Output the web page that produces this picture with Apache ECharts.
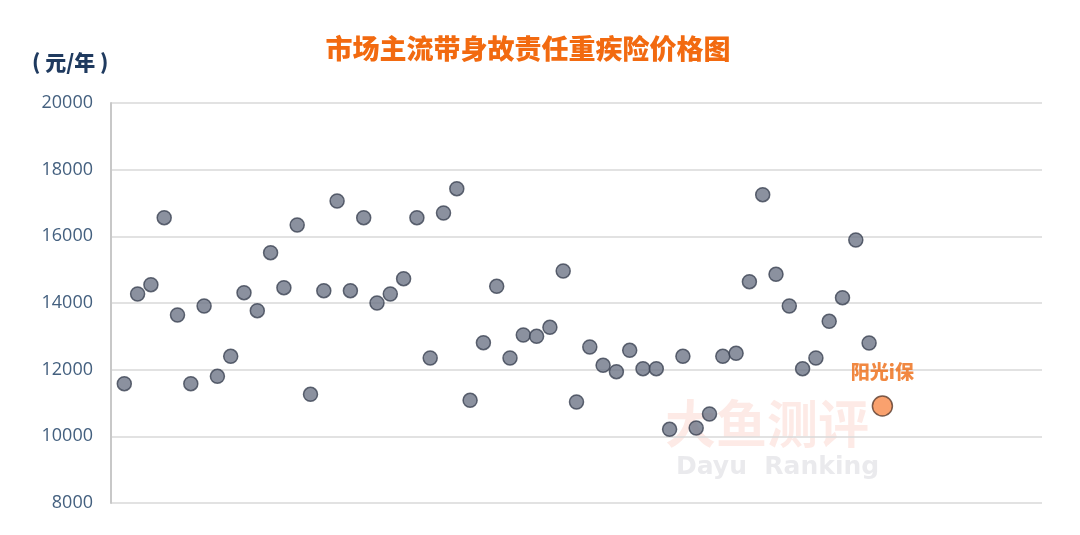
<!DOCTYPE html>
<html>
<head>
<meta charset="utf-8">
<script src="https://cdn.jsdelivr.net/npm/echarts@6/dist/echarts.min.js"></script>
<style>
html,body{margin:0;padding:0;background:#fff;}
#main{width:1080px;height:535px;}
</style>
</head>
<body>
<div id="main"></div>
<script>
const title = '市场主流带身故责任重疾险价格图';
const unitLabel = '( 元/年 )';
const yTicks = [8000, 10000, 12000, 14000, 16000, 18000, 20000];
const prices = [
  11580, 14270, 14550, 16560, 13640, 11580, 13910, 11800, 12400, 14310,
  13770, 15510, 14460, 16340, 11260, 14370, 17060, 14370, 16560, 14000,
  14270, 14730, 16560, 12350, 16700, 17430, 11080, 12810, 14500, 12350,
  13040, 13000, 13270, 14960, 11030, 12680, 12130, 11940, 12580, 12030,
  12030, 10210, 12400, 10250, 10670, 12400, 12490, 14640, 17250, 14860,
  13910, 12030, 12350, 13450, 14160, 15890, 12800
];
const highlightName = '阳光i保';
const highlightPrice = 10910;
const xSlots = 70;

const others = prices.map((v, i) => [i + 1, v]);
const highlight = [[prices.length + 1, highlightPrice]];

const chart = echarts.init(document.getElementById('main'));
chart.setOption({
  animation: false,
  backgroundColor: '#ffffff',
  title: {
    text: title,
    left: 523,
    textAlign: 'center',
    top: 30,
    textStyle: {
      color: '#F26A10',
      fontSize: 27,
      fontWeight: 900,
      fontFamily: 'Noto Sans CJK SC'
    }
  },
  graphic: [
    {
      type: 'text',
      left: 32,
      top: 52,
      style: {
        text: unitLabel,
        fill: '#1F3A5F',
        font: '900 21px "Noto Sans CJK SC"'
      }
    },
    {
      type: 'text',
      left: 665,
      top: 398,
      z: 0,
      style: {
        text: '大鱼测评',
        fill: 'rgba(244,150,130,0.2)',
        font: 'bold 51px "Noto Sans CJK SC"'
      }
    },
    {
      type: 'text',
      left: 676,
      top: 455,
      z: 0,
      style: {
        text: 'Dayu  Ranking',
        fill: 'rgba(180,180,190,0.28)',
        font: 'bold 25px "DejaVu Sans"'
      }
    }
  ],
  grid: {
    left: 111,
    right: 38,
    top: 103,
    bottom: 32,
    containLabel: false
  },
  xAxis: {
    type: 'value',
    min: 0,
    max: xSlots,
    axisLine: { show: false },
    axisTick: { show: false },
    axisLabel: { show: false },
    splitLine: { show: false }
  },
  yAxis: {
    type: 'value',
    min: yTicks[0],
    max: yTicks[yTicks.length - 1],
    interval: 2000,
    axisLine: { show: true, lineStyle: { color: '#C8C8C8', width: 2 } },
    axisTick: { show: false },
    axisLabel: {
      color: '#44607F',
      fontSize: 18,
      margin: 18,
      fontFamily: 'Open Sans',
      formatter: (v) => String(v)
    },
    splitLine: { show: true, lineStyle: { color: '#D9D9D9', width: 1.5 } }
  },
  series: [
    {
      type: 'scatter',
      data: others,
      symbolSize: 14,
      itemStyle: {
        color: '#6E7587',
        borderColor: '#3B4252',
        borderWidth: 1.5
      },
      z: 3
    },
    {
      type: 'scatter',
      data: highlight,
      symbolSize: 20,
      itemStyle: {
        color: '#F7894A',
        borderColor: '#5A3A2A',
        borderWidth: 1.5
      },
      label: {
        show: true,
        position: 'top',
        distance: 14,
        formatter: highlightName,
        color: '#EE6A12',
        fontSize: 19,
        fontWeight: 900,
        fontFamily: 'Noto Sans CJK SC'
      },
      z: 4
    }
  ]
});
</script>
</body>
</html>
